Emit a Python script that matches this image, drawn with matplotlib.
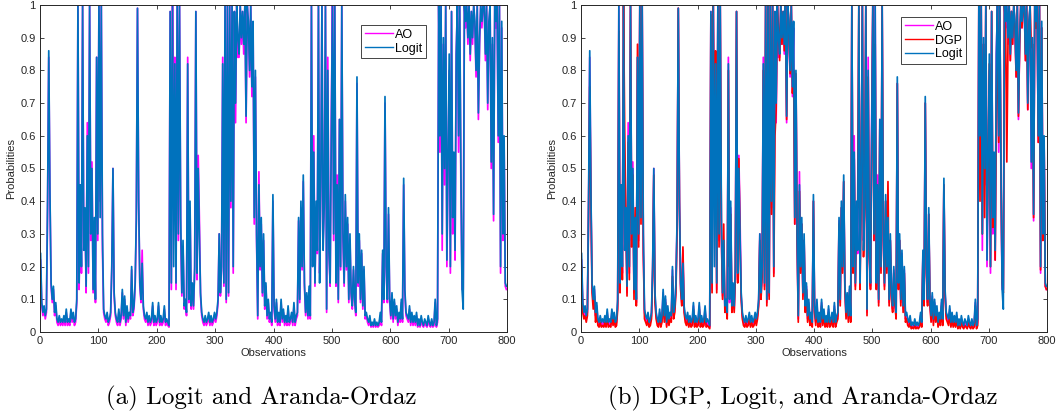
import numpy as np
import matplotlib
matplotlib.use('Agg')
import matplotlib.pyplot as plt

# observations are sampled every second index (1, 3, ..., 799)
obs = np.arange(1, 800, 2)

logit = [
    0.24, 0.09, 0.06, 0.08, 0.05, 0.07, 0.40, 0.86, 0.43, 0.15,
    0.10, 0.14, 0.06, 0.09, 0.04, 0.03, 0.05, 0.03, 0.04, 0.03,
    0.05, 0.03, 0.07, 0.03, 0.04, 0.03, 0.07, 0.04, 0.06, 0.03,
    0.04, 0.10, 1.00, 0.15, 0.45, 0.20, 1.00, 0.25, 0.38, 0.14,
    0.60, 0.20, 1.00, 0.30, 0.50, 0.13, 0.35, 0.10, 0.84, 0.30,
    1.00, 0.35, 1.00, 0.30, 0.07, 0.05, 0.04, 0.06, 0.03, 0.04,
    0.06, 0.20, 0.50, 0.12, 0.06, 0.04, 0.03, 0.07, 0.03, 0.05,
    0.13, 0.05, 0.11, 0.03, 0.08, 0.04, 0.06, 0.05, 0.20, 0.06,
    0.08, 0.15, 0.35, 0.99, 0.40, 0.15, 0.10, 0.21, 0.08, 0.05,
    0.04, 0.06, 0.03, 0.05, 0.03, 0.04, 0.09, 0.03, 0.05, 0.03,
    0.04, 0.09, 0.03, 0.05, 0.03, 0.04, 0.08, 0.03, 0.04, 0.03,
    0.02, 0.98, 0.15, 1.00, 0.20, 0.82, 0.15, 1.00, 0.30, 1.00,
    0.35, 0.12, 0.28, 0.08, 0.10, 0.06, 0.82, 0.10, 0.40, 0.08,
    0.15, 0.08, 0.20, 0.98, 0.18, 0.50, 0.30, 0.12, 0.06, 0.04,
    0.03, 0.05, 0.03, 0.04, 0.06, 0.03, 0.05, 0.03, 0.04, 0.06,
    0.04, 0.06, 0.10, 0.30, 0.12, 0.20, 0.82, 0.15, 1.00, 0.10,
    1.00, 0.12, 1.00, 0.40, 1.00, 0.20, 0.98, 0.70, 1.00, 0.90,
    0.85, 1.00, 0.90, 0.98, 0.88, 1.00, 0.66, 1.00, 0.95, 0.80,
    1.00, 0.75, 0.95, 0.35, 0.80, 0.30, 0.05, 0.45, 0.20, 0.35,
    0.12, 0.30, 0.08, 0.15, 0.05, 0.10, 0.04, 0.06, 0.03, 0.42,
    0.08, 0.04, 0.10, 0.03, 0.06, 0.03, 0.10, 0.04, 0.07, 0.03,
    0.05, 0.03, 0.08, 0.03, 0.04, 0.06, 0.03, 0.09, 0.03, 0.05,
    0.06, 0.35, 0.10, 0.40, 0.20, 0.48, 0.15, 0.06, 0.12, 0.05,
    0.14, 0.05, 1.00, 0.20, 0.55, 0.15, 0.40, 0.25, 1.00, 0.15,
    0.45, 1.00, 0.25, 0.40, 1.00, 0.07, 0.80, 0.25, 0.15, 0.60,
    1.00, 0.30, 1.00, 0.15, 0.45, 0.10, 0.65, 0.20, 1.00, 0.30,
    0.15, 0.42, 0.20, 0.35, 0.10, 0.30, 0.12, 0.08, 0.20, 0.10,
    0.06, 0.78, 0.15, 0.30, 0.10, 0.25, 0.08, 0.20, 0.05, 0.06,
    0.04, 0.03, 0.05, 0.02, 0.03, 0.02, 0.04, 0.02, 0.03, 0.02,
    0.03, 0.06, 0.03, 0.25, 0.10, 0.72, 0.20, 0.10, 0.38, 0.10,
    0.05, 0.12, 0.04, 0.10, 0.05, 0.08, 0.03, 0.06, 0.04, 0.10,
    0.04, 0.47, 0.13, 0.06, 0.05, 0.04, 0.08, 0.03, 0.06, 0.03,
    0.05, 0.03, 0.06, 0.02, 0.04, 0.02, 0.05, 0.03, 0.02, 0.04,
    0.03, 0.02, 0.05, 0.03, 0.02, 0.04, 0.02, 0.03, 0.10, 0.02,
    0.04, 1.00, 0.60, 1.00, 0.30, 0.90, 0.50, 1.00, 0.22, 0.55,
    0.85, 0.20, 0.98, 0.35, 0.55, 0.25, 0.85, 1.00, 0.60, 1.00,
    0.50, 0.13, 0.07, 1.00, 0.95, 1.00, 0.90, 1.00, 0.85, 0.98,
    0.90, 1.00, 0.95, 0.80, 1.00, 0.67, 0.90, 1.00, 0.95, 1.00,
    1.00, 0.85, 1.00, 0.70, 0.95, 1.00, 0.52, 0.90, 0.36, 1.00,
    0.95, 1.00, 0.60, 1.00, 0.20, 0.95, 0.30, 0.60, 0.15, 0.14,
]

ao = [
    0.22, 0.08, 0.05, 0.07, 0.04, 0.06, 0.38, 0.84, 0.42, 0.14,
    0.09, 0.13, 0.05, 0.08, 0.03, 0.02, 0.04, 0.02, 0.03, 0.02,
    0.04, 0.02, 0.06, 0.02, 0.03, 0.02, 0.06, 0.03, 0.05, 0.02,
    0.03, 0.09, 1.00, 0.13, 0.45, 0.18, 1.00, 0.25, 0.37, 0.12,
    0.64, 0.18, 1.00, 0.28, 0.52, 0.12, 0.34, 0.09, 0.84, 0.28,
    1.00, 0.40, 1.00, 0.25, 0.06, 0.04, 0.03, 0.05, 0.02, 0.03,
    0.05, 0.19, 0.50, 0.11, 0.05, 0.03, 0.02, 0.06, 0.02, 0.04,
    0.12, 0.04, 0.10, 0.02, 0.07, 0.03, 0.05, 0.04, 0.19, 0.05,
    0.07, 0.14, 0.34, 0.99, 0.40, 0.14, 0.09, 0.25, 0.07, 0.04,
    0.03, 0.05, 0.02, 0.04, 0.02, 0.03, 0.08, 0.02, 0.04, 0.02,
    0.03, 0.08, 0.02, 0.04, 0.02, 0.03, 0.07, 0.02, 0.03, 0.02,
    0.015, 0.98, 0.13, 1.00, 0.60, 0.84, 0.13, 1.00, 0.28, 1.00,
    0.30, 0.11, 0.26, 0.07, 0.09, 0.05, 0.84, 0.09, 0.38, 0.07,
    0.14, 0.07, 0.19, 0.98, 0.16, 0.54, 0.35, 0.11, 0.05, 0.03,
    0.02, 0.04, 0.02, 0.03, 0.05, 0.02, 0.04, 0.02, 0.03, 0.05,
    0.03, 0.05, 0.09, 0.30, 0.11, 0.19, 0.84, 0.14, 1.00, 0.09,
    1.00, 0.11, 1.00, 0.38, 1.00, 0.18, 0.98, 0.64, 1.00, 0.84,
    0.84, 1.00, 0.88, 0.98, 0.85, 1.00, 0.64, 1.00, 0.93, 0.78,
    1.00, 0.72, 0.93, 0.33, 0.78, 0.28, 0.04, 0.49, 0.19, 0.33,
    0.11, 0.28, 0.07, 0.14, 0.04, 0.09, 0.03, 0.05, 0.02, 0.40,
    0.07, 0.03, 0.09, 0.02, 0.05, 0.02, 0.09, 0.03, 0.06, 0.02,
    0.04, 0.02, 0.07, 0.02, 0.03, 0.05, 0.02, 0.08, 0.02, 0.04,
    0.05, 0.34, 0.09, 0.38, 0.19, 0.46, 0.14, 0.05, 0.11, 0.04,
    0.13, 0.04, 1.00, 0.22, 0.60, 0.14, 0.38, 0.24, 1.00, 0.18,
    0.42, 1.00, 0.28, 0.38, 1.00, 0.06, 0.84, 0.24, 0.14, 0.65,
    1.00, 0.28, 1.00, 0.14, 0.48, 0.09, 0.65, 0.19, 1.00, 0.28,
    0.14, 0.40, 0.19, 0.33, 0.09, 0.28, 0.11, 0.07, 0.19, 0.09,
    0.05, 0.76, 0.14, 0.28, 0.09, 0.24, 0.07, 0.19, 0.04, 0.05,
    0.03, 0.02, 0.04, 0.015, 0.02, 0.015, 0.03, 0.015, 0.02, 0.015,
    0.02, 0.05, 0.02, 0.24, 0.09, 0.70, 0.19, 0.09, 0.36, 0.09,
    0.04, 0.11, 0.03, 0.09, 0.04, 0.07, 0.02, 0.05, 0.03, 0.09,
    0.03, 0.45, 0.12, 0.05, 0.04, 0.03, 0.07, 0.02, 0.05, 0.02,
    0.04, 0.02, 0.05, 0.015, 0.03, 0.015, 0.04, 0.02, 0.015, 0.03,
    0.02, 0.015, 0.04, 0.02, 0.015, 0.03, 0.015, 0.02, 0.09, 0.015,
    0.03, 1.00, 0.55, 1.00, 0.25, 0.88, 0.45, 1.00, 0.20, 0.50,
    0.80, 0.18, 0.98, 0.30, 0.50, 0.22, 0.85, 1.00, 0.55, 1.00,
    0.45, 0.13, 0.13, 1.00, 0.93, 1.00, 0.88, 1.00, 0.83, 0.98,
    0.88, 1.00, 0.93, 0.78, 1.00, 0.65, 0.88, 1.00, 0.93, 1.00,
    1.00, 0.83, 1.00, 0.68, 0.93, 1.00, 0.50, 0.88, 0.34, 1.00,
    0.93, 1.00, 0.58, 1.00, 0.18, 0.93, 0.28, 0.58, 0.14, 0.13,
]

dgp = [
    0.20, 0.06, 0.04, 0.05, 0.03, 0.05, 0.36, 0.75, 0.40, 0.12,
    0.07, 0.11, 0.03, 0.06, 0.02, 0.015, 0.03, 0.015, 0.02, 0.015,
    0.03, 0.015, 0.05, 0.015, 0.02, 0.015, 0.05, 0.02, 0.04, 0.015,
    0.02, 0.07, 0.92, 0.12, 0.42, 0.16, 1.00, 0.62, 0.35, 0.11,
    0.58, 0.16, 1.00, 0.26, 0.48, 0.10, 0.38, 0.08, 0.88, 0.26,
    1.00, 0.33, 1.00, 0.24, 0.04, 0.03, 0.02, 0.04, 0.015, 0.02,
    0.04, 0.17, 0.48, 0.09, 0.04, 0.02, 0.015, 0.05, 0.015, 0.03,
    0.10, 0.03, 0.09, 0.015, 0.06, 0.02, 0.04, 0.03, 0.17, 0.04,
    0.06, 0.12, 0.32, 0.99, 0.38, 0.13, 0.08, 0.26, 0.06, 0.03,
    0.02, 0.04, 0.015, 0.03, 0.015, 0.02, 0.07, 0.015, 0.03, 0.015,
    0.02, 0.07, 0.015, 0.03, 0.015, 0.02, 0.06, 0.015, 0.02, 0.015,
    0.01, 0.97, 0.12, 1.00, 0.60, 0.86, 0.12, 1.00, 0.26, 1.00,
    0.30, 0.10, 0.33, 0.06, 0.08, 0.04, 0.80, 0.20, 0.36, 0.06,
    0.12, 0.06, 0.17, 0.98, 0.15, 0.53, 0.27, 0.10, 0.04, 0.02,
    0.015, 0.03, 0.015, 0.02, 0.04, 0.015, 0.03, 0.015, 0.02, 0.04,
    0.02, 0.04, 0.08, 0.28, 0.10, 0.17, 0.80, 0.13, 1.00, 0.08,
    1.00, 0.10, 1.00, 0.36, 1.00, 0.17, 0.60, 0.68, 1.00, 0.93,
    0.83, 1.00, 0.88, 0.98, 0.86, 1.00, 0.65, 1.00, 0.94, 0.79,
    1.00, 0.73, 0.80, 0.33, 0.79, 0.28, 0.03, 0.43, 0.18, 0.33,
    0.10, 0.28, 0.06, 0.13, 0.03, 0.08, 0.02, 0.04, 0.015, 0.40,
    0.06, 0.02, 0.08, 0.015, 0.04, 0.015, 0.08, 0.02, 0.05, 0.015,
    0.03, 0.015, 0.06, 0.015, 0.02, 0.04, 0.015, 0.07, 0.015, 0.03,
    0.04, 0.33, 0.08, 0.38, 0.18, 0.46, 0.13, 0.04, 0.10, 0.03,
    0.12, 0.03, 1.00, 0.18, 0.53, 0.13, 0.38, 0.38, 1.00, 0.13,
    0.43, 1.00, 0.23, 0.38, 1.00, 0.05, 0.78, 0.23, 0.13, 0.58,
    1.00, 0.28, 0.88, 0.13, 0.43, 0.08, 0.62, 0.18, 1.00, 0.28,
    0.13, 0.40, 0.18, 0.46, 0.08, 0.28, 0.10, 0.06, 0.18, 0.08,
    0.04, 0.76, 0.13, 0.28, 0.08, 0.23, 0.06, 0.18, 0.03, 0.04,
    0.02, 0.015, 0.03, 0.01, 0.015, 0.01, 0.02, 0.01, 0.015, 0.01,
    0.015, 0.04, 0.015, 0.23, 0.08, 0.70, 0.18, 0.08, 0.36, 0.08,
    0.03, 0.10, 0.02, 0.08, 0.03, 0.06, 0.015, 0.04, 0.02, 0.08,
    0.02, 0.45, 0.11, 0.04, 0.03, 0.02, 0.06, 0.015, 0.04, 0.015,
    0.03, 0.015, 0.04, 0.01, 0.02, 0.01, 0.03, 0.015, 0.01, 0.02,
    0.015, 0.01, 0.03, 0.015, 0.01, 0.02, 0.01, 0.015, 0.08, 0.01,
    0.02, 1.00, 0.40, 1.00, 0.30, 0.88, 0.35, 1.00, 0.30, 0.50,
    0.82, 0.20, 0.98, 0.32, 0.52, 0.22, 0.65, 1.00, 0.58, 1.00,
    0.48, 0.15, 0.12, 1.00, 0.93, 0.52, 0.88, 1.00, 0.83, 0.98,
    0.88, 1.00, 0.93, 0.78, 1.00, 0.66, 0.88, 1.00, 0.93, 1.00,
    1.00, 0.83, 1.00, 0.68, 0.93, 1.00, 0.87, 0.88, 0.35, 1.00,
    0.93, 1.00, 0.58, 1.00, 0.19, 0.93, 0.28, 0.58, 0.14, 0.13,
]

captions = ['(a) Logit and Aranda-Ordaz', '(b) DGP, Logit, and Aranda-Ordaz']

c_ao = '#FF00FF'
c_dgp = '#FF0000'
c_logit = '#0072BD'
axcol = '#262626'
lw = 1.25

plt.rcParams['font.family'] = ['Liberation Sans', 'DejaVu Sans']

fig = plt.figure(figsize=(10.56, 4.18), dpi=100)
ax1 = fig.add_axes([40/1056, 1-332/418, 467/1056, 327/418])
ax2 = fig.add_axes([581/1056, 1-332/418, 466/1056, 327/418])

ax1.plot(obs, ao, color=c_ao, lw=lw, label='AO')
ax1.plot(obs, logit, color=c_logit, lw=lw, label='Logit')

ax2.plot(obs, ao, color=c_ao, lw=lw, label='AO')
ax2.plot(obs, dgp, color=c_dgp, lw=lw, label='DGP')
ax2.plot(obs, logit, color=c_logit, lw=lw, label='Logit')

for ax in (ax1, ax2):
    ax.set_xlim(0, 800)
    ax.set_ylim(0, 1)
    ax.set_xticks(np.arange(0, 801, 100))
    ax.set_yticks(np.arange(0, 1.01, 0.1))
    ax.set_yticklabels(['0', '0.1', '0.2', '0.3', '0.4', '0.5', '0.6', '0.7', '0.8', '0.9', '1'])
    ax.tick_params(direction='in', length=3, width=0.6, colors=axcol, labelsize=8,
                   top=True, right=True, pad=3)
    for s in ax.spines.values():
        s.set_color(axcol)
        s.set_linewidth(0.7)
    ax.set_xlabel('Observations', fontsize=8, color=axcol, labelpad=1)
    ax.set_ylabel('Probabilities', fontsize=8, color=axcol, labelpad=3)

leg_kw = dict(loc='upper right', fontsize=9, frameon=True, fancybox=False,
              edgecolor='#262626', framealpha=1, handlelength=2.2,
              handletextpad=0.2, borderpad=0.3, labelspacing=0.15,
              borderaxespad=0, bbox_transform=fig.transFigure)
l1 = ax1.legend(bbox_to_anchor=(426/1056, 1-25/418), **leg_kw)
l2 = ax2.legend(bbox_to_anchor=(966/1056, 1-17/418), **leg_kw)
for l in (l1, l2):
    l.get_frame().set_linewidth(0.6)
    for h in l.get_lines():
        h.set_linewidth(1.0)

fig.text(261/1056, 1-398/418, captions[0], ha='center', va='center',
         fontsize=18, family=['cmr10', 'DejaVu Serif'])
fig.text(803/1056, 1-398/418, captions[1], ha='center', va='center',
         fontsize=18, family=['cmr10', 'DejaVu Serif'])

fig.savefig('out.png', dpi=100)
